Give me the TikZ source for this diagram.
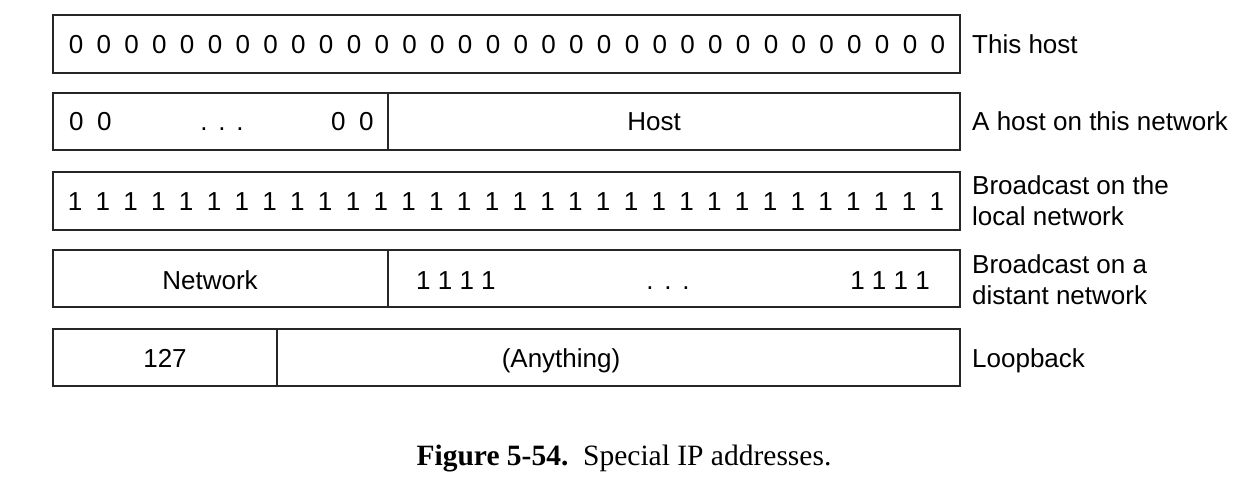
\documentclass[tikz,border=0pt]{standalone}
\usepackage{fontspec}
\setmainfont{Liberation Serif}
\newfontfamily\arialf{Liberation Sans}
\begin{document}
\begin{tikzpicture}[x=1pt,y=-1pt,
  box/.style={draw=black!85,line width=1.3pt},
  txt/.style={font=\arialf\fontsize{26}{30}\selectfont,inner sep=0pt,anchor=base},
  lbl/.style={font=\arialf\fontsize{26}{30}\selectfont,inner sep=0pt,anchor=base west},
  captxt/.style={font=\fontsize{29.5}{33}\selectfont,inner sep=0pt,anchor=base}]
\useasboundingbox (0,0) rectangle (1248,492);
% boxes
\draw[box] (53,15) rectangle (960,73);
\draw[box] (53,93) rectangle (960,150);
\draw[box] (388,93) -- (388,150);
\draw[box] (53,172) rectangle (960,230);
\draw[box] (53,250) rectangle (960,307);
\draw[box] (388,250) -- (388,307);
\draw[box] (53,329) rectangle (960,386);
\draw[box] (277,329) -- (277,386);
% row 1
\foreach \i in {0,...,31} \node[txt] (z\i) at ({76+27.8*\i},54) {0};
% row 2
\node[txt,anchor=base west] (r2a) at (69,131) {0};
\node[txt,anchor=base west] (r2b) at (97,131) {0};
\foreach \x [count=\k] in {204,222,240} \node[txt] (r2d\k) at (\x,131) {.};
\node[txt,anchor=base west] (r2c) at (331,131) {0};
\node[txt,anchor=base west] (r2e) at (359,131) {0};
\node[txt] (r2h) at (654,131) {Host};
% row 3
\foreach \i in {0,...,31} \node[txt] (o\i) at ({75+27.8*\i},210) {1};
% row 4
\node[txt] (r4n) at (210,289) {Network};
\node[txt,anchor=base west] (r4a) at (416,289) {1 1 1 1};
\foreach \x [count=\k] in {650,668,686} \node[txt] (r4d\k) at (\x,289) {.};
\node[txt,anchor=base east] (r4c) at (930,289) {1 1 1 1};
% row 5
\node[txt] (r5a) at (165,367) {127};
\node[txt] (r5b) at (561,367) {(Anything)};
% labels
\node[lbl] (l1) at (972,54) {This host};
\node[lbl] (l2) at (972,131) {A host on this network};
\node[lbl] (l3a) at (972,194) {Broadcast on the};
\node[lbl] (l3b) at (972,225) {local network};
\node[lbl] (l4a) at (972,273) {Broadcast on a};
\node[lbl] (l4b) at (972,304) {distant network};
\node[lbl] (l5) at (972,367) {Loopback};
% caption
\node[captxt] (capn) at (624,465) {\textbf{Figure 5-54.}\hspace{0.5em}Special IP addresses.};
\end{tikzpicture}
\end{document}
